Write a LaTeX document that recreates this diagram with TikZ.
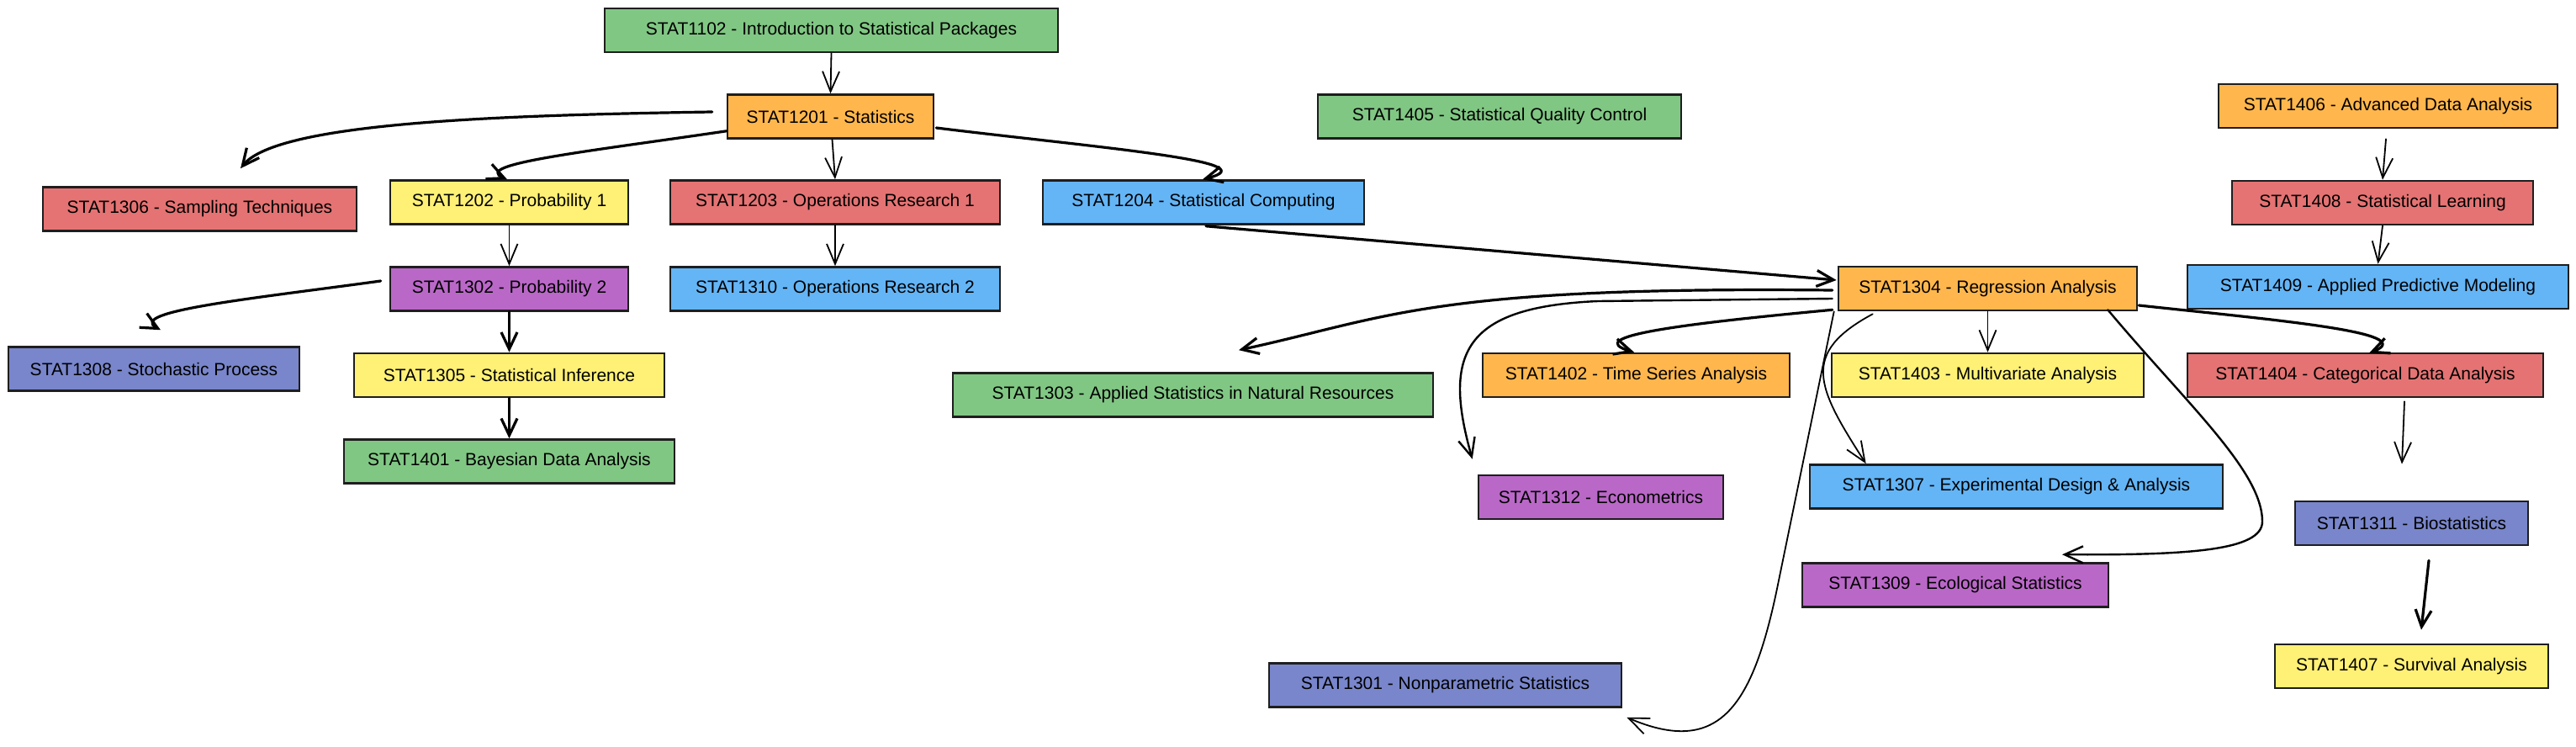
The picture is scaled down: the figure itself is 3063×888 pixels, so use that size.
\documentclass[tikz,border=0pt]{standalone}
\usepackage{fontspec}
\setmainfont{Liberation Sans}
\usetikzlibrary{arrows.meta,calc}
\definecolor{cgreen}{HTML}{81C784}
\definecolor{corange}{HTML}{FFB74D}
\definecolor{cyellow}{HTML}{FFF176}
\definecolor{cred}{HTML}{E57373}
\definecolor{cblue}{HTML}{64B5F6}
\definecolor{cpurple}{HTML}{BA68C8}
\definecolor{cindigo}{HTML}{7986CB}
\definecolor{edge}{HTML}{1E1E1E}
\begin{document}
\begin{tikzpicture}[x=1pt,y=-1pt,
  box/.style={draw=edge, line width=2.6pt, inner sep=0pt, minimum height=52pt,
    font=\fontsize{21}{25}\selectfont, text=black},
  linkA/.style={draw=black, line width=3.2pt, line cap=round, line join=round,
    -{Straight Barb[length=20pt,width=19pt]}},
  linkB/.style={draw=black, line width=1.8pt, line cap=round, line join=round,
    -{Straight Barb[length=24pt,width=20pt]}},
  linkC/.style={draw=black, line width=2.4pt, line cap=round, line join=round,
    -{Straight Barb[length=22pt,width=20pt]}}]
\useasboundingbox[fill=white] (0,0) rectangle (3063,888);

% nodes
\node[box,fill=cgreen,minimum width=539pt] (n1102) at (988.5,36) {STAT1102 - Introduction to Statistical Packages};
\node[box,fill=corange,minimum width=245pt] (n1201) at (987.5,138.5) {STAT1201 - Statistics};
\node[box,fill=cred,minimum width=373pt] (n1306) at (237.5,248.5) {STAT1306 - Sampling Techniques};
\node[box,fill=cyellow,minimum width=283pt] (n1202) at (605.5,240.5) {STAT1202 - Probability 1};
\node[box,fill=cred,minimum width=392pt] (n1203) at (993,240.5) {STAT1203 - Operations Research 1};
\node[box,fill=cblue,minimum width=382pt] (n1204) at (1431,240.5) {STAT1204 - Statistical Computing};
\node[box,fill=cgreen,minimum width=432pt] (n1405) at (1783,138.5) {STAT1405 - Statistical Quality Control};
\node[box,fill=cpurple,minimum width=283pt] (n1302) at (605.5,343.5) {STAT1302 - Probability 2};
\node[box,fill=cblue,minimum width=392pt] (n1310) at (993,343.5) {STAT1310 - Operations Research 2};
\node[box,fill=cindigo,minimum width=346pt] (n1308) at (183,438.5) {STAT1308 - Stochastic Process};
\node[box,fill=cyellow,minimum width=369pt] (n1305) at (605.5,446) {STAT1305 - Statistical Inference};
\node[box,fill=cgreen,minimum width=393pt] (n1401) at (605.5,548.5) {STAT1401 - Bayesian Data Analysis};
\node[box,fill=cgreen,minimum width=571pt] (n1303) at (1418.5,469.5) {STAT1303 - Applied Statistics in Natural Resources};
\node[box,fill=corange,minimum width=365pt] (n1402) at (1945.5,446) {STAT1402 - Time Series Analysis};
\node[box,fill=cpurple,minimum width=291pt] (n1312) at (1903.5,591) {STAT1312 - Econometrics};
\node[box,fill=corange,minimum width=403pt] (n1406) at (2839.5,126) {STAT1406 - Advanced Data Analysis};
\node[box,fill=cred,minimum width=358pt] (n1408) at (2833,241) {STAT1408 - Statistical Learning};
\node[box,fill=cblue,minimum width=453pt] (n1409) at (2827.5,341) {STAT1409 - Applied Predictive Modeling};
\node[box,fill=corange,minimum width=355pt] (n1304) at (2363.5,343) {STAT1304 - Regression Analysis};
\node[box,fill=cyellow,minimum width=371pt] (n1403) at (2363.5,446) {STAT1403 - Multivariate Analysis};
\node[box,fill=cred,minimum width=423pt] (n1404) at (2812.5,446) {STAT1404 - Categorical Data Analysis};
\node[box,fill=cblue,minimum width=491pt] (n1307) at (2397.5,578.5) {STAT1307 - Experimental Design \& Analysis};
\node[box,fill=cpurple,minimum width=364pt] (n1309) at (2325,695.5) {STAT1309 - Ecological Statistics};
\node[box,fill=cindigo,minimum width=277pt] (n1311) at (2867.5,622) {STAT1311 - Biostatistics};
\node[box,fill=cyellow,minimum width=325pt] (n1407) at (2867.5,792) {STAT1407 - Survival Analysis};
\node[box,fill=cindigo,minimum width=419pt] (n1301) at (1718.5,814.5) {STAT1301 - Nonparametric Statistics};

% connectors
\draw[linkB] (n1102.south) -- (n1201.north);
\draw[linkA] ($(n1201.west)+(-17,-5.5)$) .. controls (600,137) and (330,145) .. ($(n1306.north)+(48.5,-21)$);
\draw[linkA] ($(n1201.south west)+(0,-10)$) .. controls (700,180) and (560,195) .. ($(n1202.north)+(-2.5,0)$);
\draw[linkB] ($(n1201.south)+(2,0)$) -- (n1203.north);
\draw[linkA] ($(n1201.east)+(2,13.5)$) .. controls (1300,175) and (1515,192) .. ($(n1204.north)+(-1,0)$);
\draw[linkB] (n1202.south) -- (n1302.north);
\draw[linkA] ($(n1302.west)+(-10,-9.5)$) .. controls (300,355) and (150,370) .. ($(n1308.north)+(8,-19)$);
\draw[linkA] (n1302.south) -- (n1305.north);
\draw[linkA] (n1305.south) -- (n1401.north);
\draw[linkB] (n1203.south) -- (n1310.north);
\draw[linkA] ($(n1204.south)+(3,1)$) -- ($(n1304.west)+(-1,-10)$);
\draw[linkA] ($(n1304.west)+(-6,2)$) .. controls (1700,340) and (1650,378) .. ($(n1303.north)+(54.5,-26)$);
\draw[linkC] ($(n1304.west)+(-6,12)$) -- (1900,358) .. controls (1740,365) and (1715,420) .. ($(n1312.north west)+(-6,-18)$);
\draw[linkA] ($(n1304.south west)+(-6,-2)$) .. controls (2000,385) and (1880,400) .. ($(n1402.north)+(-2.5,0)$);
\draw[linkB] (n1304.south) -- (n1403.north);
\draw[linkA] ($(n1304.east)+(1,20)$) .. controls (2700,380) and (2880,395) .. ($(n1404.north)+(4.5,1)$);
\draw[linkB] ($(n1304.south west)+(42,3)$) .. controls (2140,420) and (2160,460) .. ($(n1307.north west)+(68,0)$);
\draw[linkC] ($(n1304.south east)+(-36,-2)$) .. controls (2600,480) and (2690,560) .. (2690,620) .. controls (2690,655) and (2600,660) .. ($(n1309.north)+(127,-9)$);
\draw[linkB] ($(n1304.south west)+(-4,0)$) -- (2115,690) .. controls (2085,840) and (2045,900) .. ($(n1301.south east)+(5,11)$);
\draw[linkB] ($(n1406.south)+(-2.5,12)$) -- (n1408.north);
\draw[linkB] (n1408.south) -- (n1409.north);
\draw[linkB] ($(n1404.south)+(46.5,4)$) -- ($(n1311.north)+(-11.5,-43)$);
\draw[linkA] ($(n1311.south)+(20.5,17)$) -- ($(n1407.north)+(11.5,-16)$);
\end{tikzpicture}
\end{document}
